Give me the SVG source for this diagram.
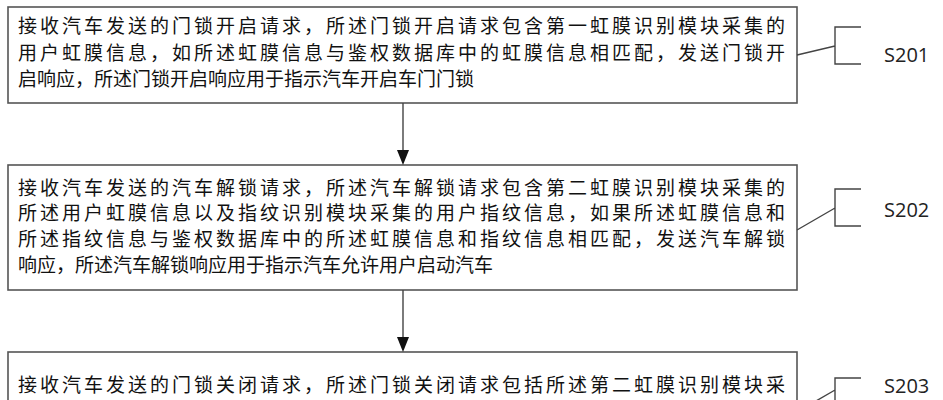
<svg xmlns="http://www.w3.org/2000/svg" width="943" height="400" viewBox="0 0 943 400">
<style>
.box{fill:#fff;stroke:#555;stroke-width:1.6}
.t{font-family:"Noto Sans CJK SC","Noto Sans",sans-serif;font-size:19px;fill:#111}
.l{font-family:"Open Sans","Noto Sans",sans-serif;font-size:20px;fill:#222}
.c{fill:none;stroke:#444;stroke-width:1.4}
.ah{fill:#111}
</style>
<rect width="943" height="400" fill="#fff"/>
<g id="n1"><rect class="box" x="8" y="7" width="789" height="96"/>
<text class="t" x="18" y="33" textLength="767">接收汽车发送的门锁开启请求，所述门锁开启请求包含第一虹膜识别模块采集的</text>
<text class="t" x="18" y="60" textLength="767">用户虹膜信息，如所述虹膜信息与鉴权数据库中的虹膜信息相匹配，发送门锁开</text>
<text class="t" x="18" y="86">启响应，所述门锁开启响应用于指示汽车开启车门门锁</text></g>
<g id="n2"><rect class="box" x="8" y="165" width="789" height="125"/>
<text class="t" x="18" y="195" textLength="767">接收汽车发送的汽车解锁请求，所述汽车解锁请求包含第二虹膜识别模块采集的</text>
<text class="t" x="18" y="220" textLength="767">所述用户虹膜信息以及指纹识别模块采集的用户指纹信息，如果所述虹膜信息和</text>
<text class="t" x="18" y="246" textLength="767">所述指纹信息与鉴权数据库中的所述虹膜信息和指纹信息相匹配，发送汽车解锁</text>
<text class="t" x="18" y="272">响应，所述汽车解锁响应用于指示汽车允许用户启动汽车</text></g>
<g id="n3"><rect class="box" x="8" y="352" width="789" height="70"/>
<text class="t" x="18" y="392" textLength="767">接收汽车发送的门锁关闭请求，所述门锁关闭请求包括所述第二虹膜识别模块采</text>
<text class="t" x="18" y="417" textLength="767">集的所述用户虹膜信息以及所述指纹识别模块采集所述用户指纹信息，如果所述</text></g>
<g id="labels">
<text class="l" x="884" y="62">S201</text>
<text class="l" x="884" y="217">S202</text>
<text class="l" x="884" y="393">S203</text></g>
<g id="connectors">
<line class="c" x1="403" y1="103" x2="403" y2="150"/>
<polygon class="ah" points="397,150 409,150 403,165"/>
<line class="c" x1="403" y1="290" x2="403" y2="337"/>
<polygon class="ah" points="397,337 409,337 403,352"/>
<path class="c" d="M797 55L835 46M861 27H835V64H861"/>
<path class="c" d="M797 230L835 208M861 189H835V226H861"/>
<path class="c" d="M797 412L835 390M861 378H835V420"/>
</g>
</svg>
